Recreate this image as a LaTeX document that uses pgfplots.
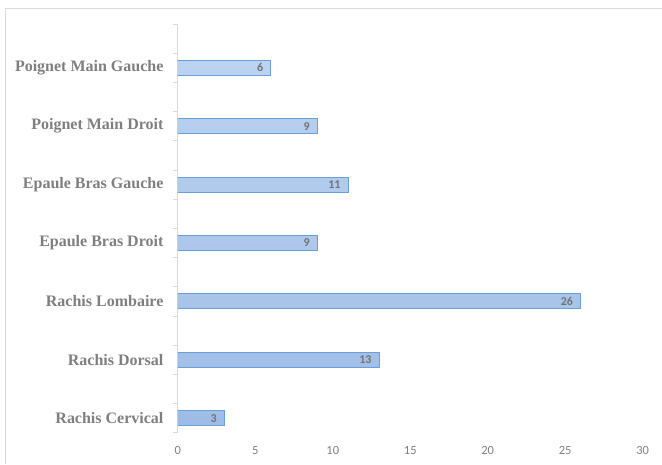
\documentclass[border=0pt]{standalone}
\usepackage{pgfplots}
\pgfplotsset{compat=1.18}
\usepackage{fontspec}
\setmainfont{Liberation Serif}
\newfontfamily\carlito{Carlito}
\definecolor{bartop}{HTML}{BCD2F0}
\definecolor{barbot}{HTML}{9DBDE6}
\definecolor{baredge}{HTML}{6B9FDA}
\definecolor{axisgray}{HTML}{D9D9D9}
\definecolor{labgray}{HTML}{7F7F7F}
\definecolor{valgray}{HTML}{737373}
\begin{document}
\begin{tikzpicture}
    % page size 662x464 (1px = 1pt)
    \path (0pt,0pt) rectangle (662pt,464pt);
    \draw[axisgray, line width=0.8pt] (5pt,0pt) -- (5pt,456pt) -- (662pt,456pt);
    \begin{axis}[
            at={(178pt,31pt)}, anchor=south west,
            scale only axis,
            width=465pt, height=409pt,
            xbar, bar width=15pt,
            xmin=0, xmax=30,
            ymin=-0.5, ymax=13.5,
            xtick={0,5,...,30},
            ytick={0,2,...,12},
            yticklabels={Rachis Cervical, Rachis Dorsal, Rachis Lombaire, Epaule Bras Droit, Epaule Bras Gauche, Poignet Main Droit, Poignet Main Gauche},
            extra y ticks={-0.5,0.5,...,13.5},
            extra y tick labels={},
            extra y tick style={major tick length=5pt, tick align=outside, tick style={axisgray, line width=0.8pt}},
            major tick length=0pt,
            axis lines*=left,
            x axis line style={draw=none},
            y axis line style={draw=axisgray, line width=0.8pt},
            /pgf/number format/assume math mode=true,
            xticklabel style={font=\carlito\fontsize{12.5}{14}\selectfont, text=labgray, yshift=-10pt},
            yticklabel style={font=\bfseries\fontsize{16}{19}\selectfont, text=labgray, xshift=-11pt},
            nodes near coords,
            every node near coord/.append style={anchor=east, xshift=-4pt, font=\carlito\bfseries\fontsize{12}{14}\selectfont, text=valgray},
        ]
        \addplot[draw=baredge, line width=0.8pt, top color=bartop, bottom color=barbot] coordinates {
                (3,0)
                (13,2)
                (26,4)
                (9,6)
                (11,8)
                (9,10)
                (6,12)
            };
    \end{axis}
\end{tikzpicture}
\end{document}
